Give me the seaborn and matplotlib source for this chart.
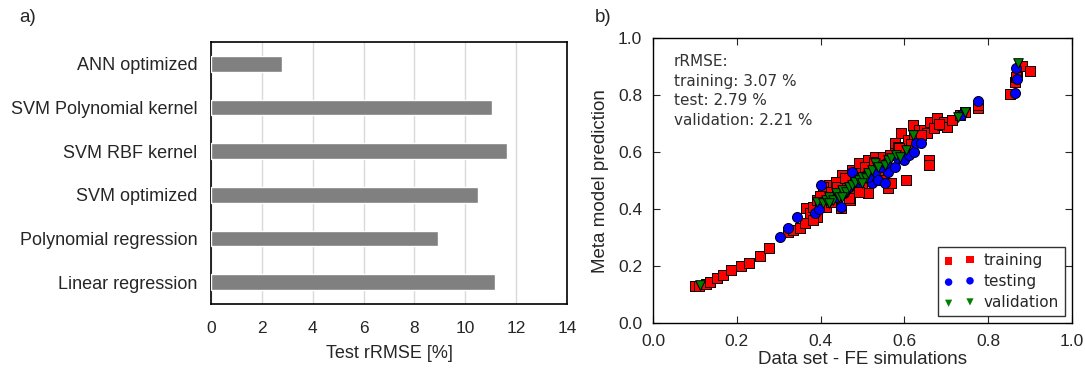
import pandas as pd
import seaborn as sns
import matplotlib.pyplot as plt

sns.set_style("white")
plt.rcParams["font.family"] = ["Liberation Sans", "DejaVu Sans"]

# === panel a) data ===
models = ["ANN optimized", "SVM Polynomial kernel", "SVM RBF kernel",
          "SVM optimized", "Polynomial regression", "Linear regression"]
test_rrmse = [2.80, 11.05, 11.66, 10.49, 8.92, 11.19]

# === panel b) data (FE simulation vs meta model prediction) ===
train_x = [0.101, 0.109, 0.125, 0.136, 0.152, 0.167, 0.186, 0.209, 0.230, 0.255, 0.277,
           0.323, 0.335, 0.351, 0.362, 0.365, 0.374, 0.382, 0.390, 0.398, 0.413, 0.421,
           0.405, 0.429, 0.436, 0.448, 0.452, 0.460, 0.467, 0.471, 0.475, 0.491, 0.499,
           0.507, 0.514, 0.514, 0.530, 0.538, 0.545, 0.553, 0.561, 0.569, 0.577, 0.577,
           0.584, 0.604, 0.592, 0.608, 0.620, 0.623, 0.635, 0.647, 0.655, 0.658, 0.658,
           0.662, 0.670, 0.678, 0.689, 0.694, 0.701, 0.713, 0.733, 0.744, 0.775, 0.775,
           0.853, 0.865, 0.869, 0.881, 0.900, 0.867,
           0.413, 0.425, 0.444, 0.479, 0.491, 0.522, 0.541, 0.467, 0.436, 0.425, 0.390, 0.382,
           0.398, 0.440, 0.458, 0.483, 0.505, 0.527, 0.548, 0.566, 0.588, 0.615, 0.640, 0.683]
train_y = [0.131, 0.129, 0.138, 0.146, 0.158, 0.170, 0.187, 0.201, 0.213, 0.236, 0.264,
           0.322, 0.327, 0.333, 0.353, 0.404, 0.386, 0.409, 0.433, 0.421, 0.444, 0.485,
           0.480, 0.456, 0.439, 0.404, 0.520, 0.497, 0.468, 0.433, 0.538, 0.561, 0.480,
           0.515, 0.456, 0.573, 0.585, 0.538, 0.503, 0.573, 0.474, 0.491, 0.602, 0.632,
           0.620, 0.503, 0.667, 0.643, 0.696, 0.655, 0.678, 0.678, 0.667, 0.573, 0.556,
           0.708, 0.684, 0.719, 0.696, 0.708, 0.690, 0.713, 0.731, 0.743, 0.754, 0.766,
           0.805, 0.848, 0.883, 0.903, 0.887, 0.863,
           0.409, 0.427, 0.462, 0.485, 0.462, 0.503, 0.556, 0.439, 0.497, 0.462, 0.374, 0.363,
           0.445, 0.478, 0.510, 0.526, 0.548, 0.565, 0.585, 0.592, 0.615, 0.630, 0.662, 0.700]

test_x = [0.302, 0.322, 0.343, 0.386, 0.396, 0.401, 0.448, 0.475, 0.436, 0.456, 0.467,
          0.491, 0.507, 0.522, 0.530, 0.538, 0.553, 0.561, 0.545, 0.557, 0.577, 0.584,
          0.600, 0.612, 0.623, 0.627, 0.639, 0.736, 0.775, 0.865, 0.869, 0.867, 0.421, 0.514]
test_y = [0.301, 0.336, 0.374, 0.388, 0.400, 0.485, 0.409, 0.532, 0.444, 0.456, 0.480,
          0.497, 0.520, 0.491, 0.532, 0.503, 0.491, 0.532, 0.550, 0.561, 0.550, 0.579,
          0.573, 0.591, 0.602, 0.632, 0.632, 0.731, 0.780, 0.809, 0.856, 0.895, 0.433, 0.515]

val_x = [0.113, 0.390, 0.405, 0.413, 0.421, 0.429, 0.436, 0.444, 0.452, 0.460, 0.467,
         0.475, 0.483, 0.491, 0.499, 0.507, 0.514, 0.522, 0.530, 0.538, 0.553, 0.561,
         0.569, 0.581, 0.589, 0.604, 0.620, 0.729, 0.744, 0.871, 0.421, 0.452, 0.499]
val_y = [0.135, 0.427, 0.421, 0.433, 0.444, 0.433, 0.456, 0.444, 0.468, 0.462, 0.480,
         0.485, 0.497, 0.503, 0.515, 0.509, 0.526, 0.538, 0.561, 0.550, 0.556, 0.573,
         0.579, 0.591, 0.585, 0.608, 0.661, 0.725, 0.743, 0.915, 0.421, 0.444, 0.491]

rrmse_text = "rRMSE:\ntraining: 3.07 %\ntest: 2.79 %\nvalidation: 2.21 %"

fig = plt.figure(figsize=(10.85, 3.69), dpi=100)

# === a) bar chart ===
ax1 = fig.add_axes([0.1945, 0.176, 0.328, 0.710])
bar_df = pd.DataFrame({"model": models, "rrmse": test_rrmse})
sns.barplot(data=bar_df, y="model", x="rrmse", orient="h", color="#808080",
            saturation=1, width=0.36, ax=ax1, zorder=3)
ax1.set_xlim(0, 14)
ax1.set_xticks(range(0, 15, 2))
ax1.xaxis.grid(True, color="#d9d9d9", linewidth=1, zorder=0)
ax1.yaxis.grid(False)
ax1.set_axisbelow(True)
ax1.set_ylabel("")
ax1.set_xlabel("Test rRMSE [%]", fontsize=13, labelpad=7)
ax1.tick_params(axis="y", length=0, labelsize=13, pad=10)
ax1.tick_params(axis="x", length=0, labelsize=12.5, pad=12)
for sp in ax1.spines.values():
    sp.set_color("black")
    sp.set_linewidth(1.2)
fig.text(0.018, 0.94, "a)", fontsize=13.5)

# === b) scatter ===
ax2 = fig.add_axes([0.602, 0.124, 0.386, 0.772])
sns.scatterplot(x=train_x, y=train_y, marker="s", color="red", s=48,
                edgecolor="black", linewidth=0.7, label="training", ax=ax2, legend=False)
sns.scatterplot(x=test_x, y=test_y, marker="o", color="blue", s=52,
                edgecolor="black", linewidth=0.7, label="testing", ax=ax2, legend=False)
sns.scatterplot(x=val_x, y=val_y, marker="v", color="green", s=48,
                edgecolor="black", linewidth=0.7, label="validation", ax=ax2, legend=False)
ax2.set_xlim(0, 1)
ax2.set_ylim(0, 1)
ax2.set_xticks([0.0, 0.2, 0.4, 0.6, 0.8, 1.0])
ax2.set_yticks([0.0, 0.2, 0.4, 0.6, 0.8, 1.0])
ax2.tick_params(axis="both", direction="in", length=5, width=0.8, top=True, right=True,
                bottom=True, left=True, labelsize=12.5, pad=8)
ax2.set_xlabel("Data set - FE simulations", fontsize=13.5, labelpad=1)
ax2.set_ylabel("Meta model prediction", fontsize=13.5, labelpad=6)
for sp in ax2.spines.values():
    sp.set_color("black")
    sp.set_linewidth(1.0)
ax2.text(0.05, 0.945, rrmse_text, transform=ax2.transAxes, va="top", ha="left",
         fontsize=11, family="DejaVu Sans", color="#333333", linespacing=1.38)
leg = ax2.legend(loc="lower right", scatterpoints=2, markerscale=0.75, frameon=True,
                 fancybox=False, edgecolor="black", prop={"family": "DejaVu Sans", "size": 11},
                 borderaxespad=0.45, handletextpad=0.6, labelspacing=0.4)
leg.get_frame().set_linewidth(1.0)
for h in leg.legend_handles:
    h.set_edgecolor("none")
fig.text(0.548, 0.94, "b)", fontsize=13.5)

fig.savefig("out.png", dpi=100)
